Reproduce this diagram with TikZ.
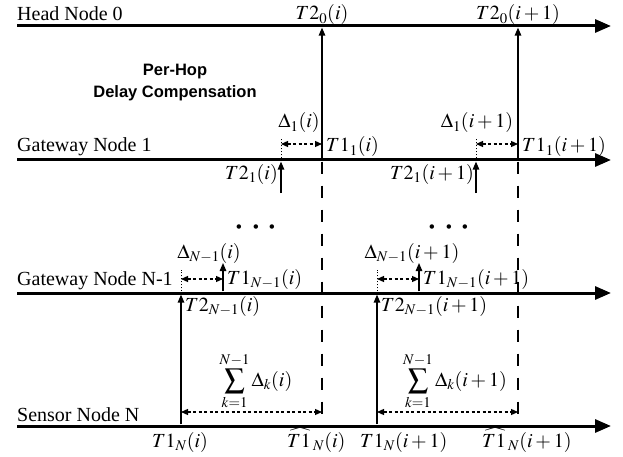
\documentclass[tikz,border=0pt]{standalone}
\usepackage{mathptmx}
\usepackage[no-math]{fontspec}
\setmainfont{Liberation Serif}
\newfontfamily\hsans{Liberation Sans}
\usetikzlibrary{arrows.meta}
\begin{document}
\begin{tikzpicture}[x=1pt,y=-1pt,
  timeline/.style={line width=3pt,-{Triangle[length=16pt,width=13pt]}},
  msg/.style={line width=1.3pt,-{Triangle[length=8pt,width=6.5pt]}},
  guide/.style={line width=1.5pt,dash pattern=on 12pt off 12pt},
  tickline/.style={line width=0.9pt,dash pattern=on 1.5pt off 1.5pt},
  spanarrow/.style={line width=1.2pt,dash pattern=on 3pt off 2.5pt,
    {Triangle[length=7pt,width=6pt]}-{Triangle[length=7pt,width=6pt]}},
  lbl/.style={font=\fontsize{20}{22}\selectfont, inner sep=0pt},
  dotlbl/.style={font=\fontsize{42}{44}\selectfont, inner sep=0pt},
  ttl/.style={font=\hsans\bfseries\fontsize{16.5}{22}\selectfont, inner sep=0pt, align=center},
  ]
\useasboundingbox (0,0) rectangle (623,457);

% time lines
\coordinate (h0) at (17,26);  \coordinate (h1) at (611,26);
\coordinate (g0) at (17,160); \coordinate (g1) at (611,160);
\coordinate (m0) at (17,293); \coordinate (m1) at (611,293);
\coordinate (s0) at (17,426); \coordinate (s1) at (611,426);
\draw[timeline] (h0) -- (h1);
\draw[timeline] (g0) -- (g1);
\draw[timeline] (m0) -- (m1);
\draw[timeline] (s0) -- (s1);

\node[lbl,anchor=base west] (lh) at (17,21) {Head Node 0};
\node[lbl,anchor=base west] (lg) at (17,152) {Gateway Node 1};
\node[lbl,anchor=base west] (lm) at (17,285) {Gateway Node N-1};
\node[lbl,anchor=base west] (ls) at (17,421) {Sensor Node N};

\node[ttl] (title) at (175,83) {Per-Hop\\Delay Compensation};

% ---- two rounds ----
\foreach \xa/\xb/\xc/\xd/\r in {181/223/281/322/a, 377/419/476/518/b}{
  % head message
  \coordinate (gd\r) at (\xd,160);
  \coordinate (hd\r) at (\xd,27.6);
  \draw[msg] (gd\r) -- (hd\r);
  % dashed guide
  \coordinate (gdt\r) at (\xd,161.6);
  \coordinate (sd\r) at (\xd,424.4);
  \draw[guide] (gdt\r) -- (sd\r);
  % gateway 1 reception
  \coordinate (gc0\r) at (\xc,193);
  \coordinate (gc\r) at (\xc,161.6);
  \draw[msg] (gc0\r) -- (gc\r);
  \coordinate (gct\r) at (\xc,158.4);
  \coordinate (gcu\r) at (\xc,138);
  \draw[tickline] (gct\r) -- (gcu\r);
  \coordinate (sp1l\r) at (\xc,144);
  \coordinate (sp1r\r) at (\xd,144);
  \draw[spanarrow] (sp1l\r) -- (sp1r\r);
  % gateway N-1
  \coordinate (sa\r) at (\xa,424.4);
  \coordinate (ma\r) at (\xa,294.6);
  \draw[msg] (sa\r) -- (ma\r);
  \coordinate (mat\r) at (\xa,291.4);
  \coordinate (mau\r) at (\xa,270);
  \draw[tickline] (mat\r) -- (mau\r);
  \coordinate (mb\r) at (\xb,291.4);
  \coordinate (mbu\r) at (\xb,263);
  \draw[msg] (mb\r) -- (mbu\r);
  \coordinate (sp2l\r) at (\xa,279);
  \coordinate (sp2r\r) at (\xb,279);
  \draw[spanarrow] (sp2l\r) -- (sp2r\r);
  % sensor span
  \coordinate (sp3l\r) at (\xa,412);
  \coordinate (sp3r\r) at (\xd,412);
  \draw[spanarrow] (sp3l\r) -- (sp3r\r);
}

% labels round i
\node[lbl,anchor=base] (t20a) at (322,20) {$T2_0(i)$};
\node[lbl,anchor=base] (d1a) at (299,128) {$\Delta_1(i)$};
\node[lbl,anchor=base west] (t11a) at (326,152) {$T1_1(i)$};
\node[lbl,anchor=base east] (t21a) at (278,179) {$T2_1(i)$};
\node[lbl,anchor=base] (dna) at (209,258) {$\Delta_{N-1}(i)$};
\node[lbl,anchor=base west] (t1na) at (227,284) {$T1_{N-1}(i)$};
\node[lbl,anchor=base west] (t2na) at (185,311) {$T2_{N-1}(i)$};
\node[lbl] (suma) at (256,381) {$\displaystyle\sum_{k=1}^{N-1}\Delta_k(i)$};
\node[lbl,anchor=base] (t1sa) at (180,447) {$T1_N(i)$};
\node[lbl,anchor=base west] (hta) at (287,447) {$\widehat{T1\,}_N(i)$};
\node[dotlbl] (dotsa) at (256,228) {$\cdots$};

% labels round i+1
\node[lbl,anchor=base] (t20b) at (518,20) {$T2_0(i+1)$};
\node[lbl,anchor=base] (d1b) at (477,128) {$\Delta_1(i+1)$};
\node[lbl,anchor=base west] (t11b) at (522,152) {$T1_1(i+1)$};
\node[lbl,anchor=base east] (t21b) at (474,179) {$T2_1(i+1)$};
\node[lbl,anchor=base] (dnb) at (412,258) {$\Delta_{N-1}(i+1)$};
\node[lbl,anchor=base west] (t1nb) at (423,284) {$T1_{N-1}(i+1)$};
\node[lbl,anchor=base west] (t2nb) at (381,311) {$T2_{N-1}(i+1)$};
\node[lbl] (sumb) at (455,381) {$\displaystyle\sum_{k=1}^{N-1}\Delta_k(i+1)$};
\node[lbl,anchor=base west] (t1sb) at (360,447) {$T1_N(i+1)$};
\node[lbl,anchor=base west] (htb) at (482,447) {$\widehat{T1\,}_N(i+1)$};
\node[dotlbl] (dotsb) at (449,228) {$\cdots$};
\end{tikzpicture}
\end{document}
